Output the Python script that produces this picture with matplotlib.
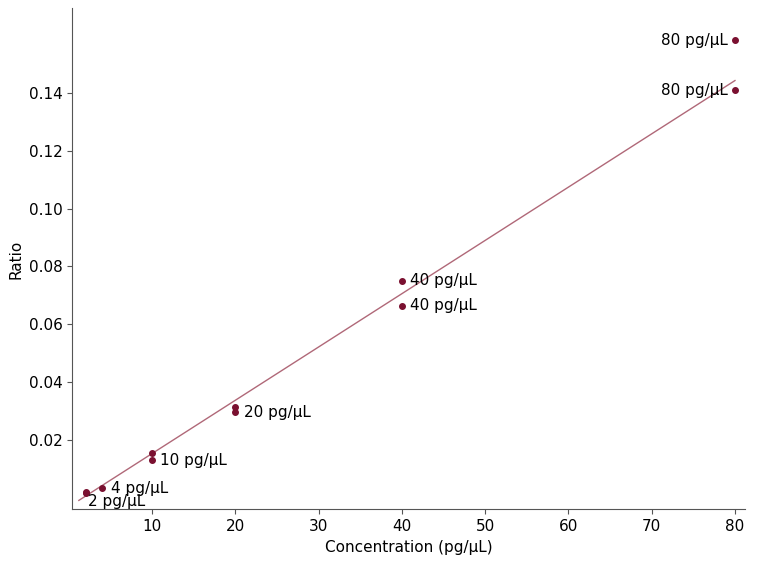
import numpy as np
import matplotlib.pyplot as plt

conc = [2, 2, 4, 10, 10, 20, 20, 40, 40, 80, 80]
ratio = [0.0021, 0.0017, 0.0035, 0.0156, 0.0131, 0.0315, 0.0297, 0.0750, 0.0664, 0.1580, 0.1408]
labels = [(2, 0.0017, '2 pg/μL', 'below'), (4, 0.0035, '4 pg/μL', 'right'),
          (10, 0.0131, '10 pg/μL', 'right'), (20, 0.0297, '20 pg/μL', 'right'),
          (40, 0.0750, '40 pg/μL', 'right'), (40, 0.0664, '40 pg/μL', 'right'),
          (80, 0.1580, '80 pg/μL', 'left'), (80, 0.1408, '80 pg/μL', 'left')]
fit_slope = 0.001838
fit_intercept = -0.0029
fit_x = [1.2, 80]

plt.rcParams['font.family'] = ['Liberation Sans Narrow', 'DejaVu Sans']
fig, ax = plt.subplots(figsize=(7.68, 5.66), dpi=100)
fig.subplots_adjust(left=0.094, right=0.97, bottom=0.1, top=0.985)

ax.plot(fit_x, [fit_slope * x + fit_intercept for x in fit_x], color='#b06878', lw=1)
ax.scatter(conc, ratio, color='#7a1030', s=16, zorder=3)
for x, y, t, pos in labels:
    if pos == 'right':
        ax.annotate(t, (x, y), xytext=(6, 0), textcoords='offset points', va='center', fontsize=11)
    elif pos == 'left':
        ax.annotate(t, (x, y), xytext=(-5, 0), textcoords='offset points', va='center', ha='right', fontsize=11)
    else:
        ax.annotate(t, (x, y), xytext=(2, -6), textcoords='offset points', va='center', fontsize=11)

ax.set_xlim(0.4, 81.2)
ax.set_ylim(-0.0038, 0.169)
ax.set_xticks([10, 20, 30, 40, 50, 60, 70, 80])
ax.set_yticks([0.02, 0.04, 0.06, 0.08, 0.10, 0.12, 0.14])
ax.set_yticklabels(['0.02', '0.04', '0.06', '0.08', '0.10', '0.12', '0.14'])
ax.set_xlabel('Concentration (pg/μL)', fontsize=11)
ax.set_ylabel('Ratio', fontsize=11)
ax.tick_params(labelsize=11, color='#555555')
for s in ['top', 'right']:
    ax.spines[s].set_visible(False)
for s in ['left', 'bottom']:
    ax.spines[s].set_color('#555555')

plt.savefig('out.png', dpi=100)
